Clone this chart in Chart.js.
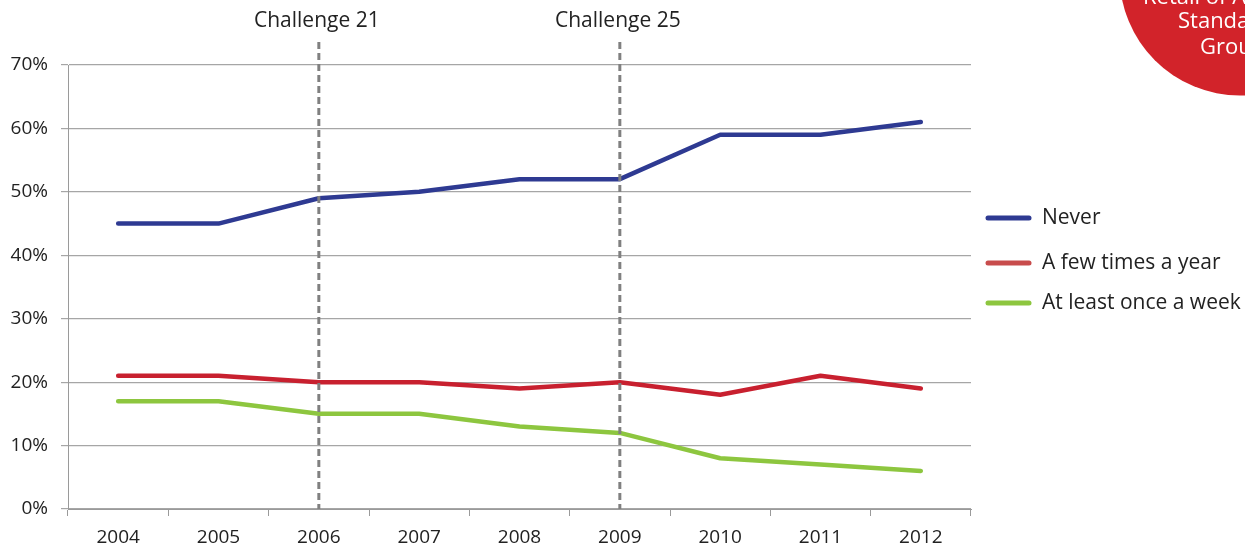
<!DOCTYPE html>
<html>
<head>
<meta charset="utf-8">
<script src="https://cdn.jsdelivr.net/npm/chart.js@4"></script>
<style>
  html, body { margin: 0; padding: 0; background: #fff; }
  #wrap { width: 1245px; height: 544px; position: relative; }
</style>
</head>
<body>
<div id="wrap"><canvas id="line-chart"></canvas></div>
<script>
// data
var years = ["2004", "2005", "2006", "2007", "2008", "2009", "2010", "2011", "2012"];
var never = [45, 45, 49, 50, 52, 52, 59, 59, 61];
var fewTimesYear = [21, 21, 20, 20, 19, 20, 18, 21, 19];
var onceAWeek = [17, 17, 15, 15, 13, 12, 8, 7, 6];
var seriesNames = ["Never", "A few times a year", "At least once a week"];
var markers = [{ year: "2006", text: "Challenge 21" }, { year: "2009", text: "Challenge 25" }];
var badgeLines = ["Retail of Alcohol", "Standards", "Group"];

var FONT = "'Open Sans', sans-serif";

// dashed "Challenge" lines and their captions
var markerPlugin = {
  id: 'markers',
  afterDatasetsDraw: function (chart) {
    var ctx = chart.ctx, x = chart.scales.x, y = chart.scales.y;
    ctx.save();
    markers.forEach(function (m) {
      var px = x.getPixelForValue(years.indexOf(m.year));
      ctx.strokeStyle = '#808080';
      ctx.lineWidth = 3;
      ctx.setLineDash([7, 4]);
      ctx.beginPath();
      ctx.moveTo(px, 42);
      ctx.lineTo(px, y.bottom);
      ctx.stroke();
      ctx.setLineDash([]);
      ctx.fillStyle = '#222';
      ctx.font = '21px ' + FONT;
      ctx.textAlign = 'center';
      ctx.textBaseline = 'middle';
      ctx.fillText(m.text, px - 2, 21);
    });
    ctx.restore();
  }
};

// legend on the right, drawn by hand
var legendPlugin = {
  id: 'sideLegend',
  afterDraw: function (chart) {
    var ctx = chart.ctx;
    var rows = [218, 263, 303];
    var legendColors = ['#2e3a92', '#c84c4c', '#8dc63f'];
    ctx.save();
    chart.data.datasets.forEach(function (ds, i) {
      ctx.strokeStyle = legendColors[i];
      ctx.lineWidth = 5;
      ctx.lineCap = 'round';
      ctx.beginPath();
      ctx.moveTo(988, rows[i]);
      ctx.lineTo(1029, rows[i]);
      ctx.stroke();
      ctx.fillStyle = '#222';
      ctx.font = '21px ' + FONT;
      ctx.textAlign = 'left';
      ctx.textBaseline = 'middle';
      ctx.fillText(ds.label, 1042, rows[i]);
    });
    ctx.restore();
  }
};

// red badge in the top right corner (cut off by the page edge)
var badgePlugin = {
  id: 'badge',
  afterDraw: function (chart) {
    var ctx = chart.ctx;
    ctx.save();
    ctx.fillStyle = '#d2232a';
    ctx.beginPath();
    ctx.arc(1240, -25, 120.5, 0, Math.PI * 2);
    ctx.fill();
    ctx.fillStyle = '#fff';
    ctx.font = '22px ' + FONT;
    ctx.textAlign = 'left';
    ctx.textBaseline = 'middle';
    ctx.fillText(badgeLines[0], 1143, -2);
    ctx.fillText(badgeLines[1], 1178, 22);
    ctx.fillText(badgeLines[2], 1200, 48);
    ctx.restore();
  }
};

new Chart(document.getElementById("line-chart"), {
  type: 'line',
  data: {
    labels: years,
    datasets: [
      { label: seriesNames[0], data: never, borderColor: '#2e3a92' },
      { label: seriesNames[1], data: fewTimesYear, borderColor: '#c8202f' },
      { label: seriesNames[2], data: onceAWeek, borderColor: '#8dc63f' }
    ]
  },
  options: {
    responsive: true,
    maintainAspectRatio: false,
    animation: false,
    layout: { padding: { top: 65, right: 274, left: 0, bottom: 0 } },
    elements: {
      line: { borderWidth: 4.5, tension: 0, borderJoinStyle: 'round', borderCapStyle: 'round' },
      point: { radius: 0, hoverRadius: 0 }
    },
    plugins: { legend: { display: false }, tooltip: { enabled: false } },
    scales: {
      x: {
        offset: true,
        grid: { offset: true, drawOnChartArea: false, color: '#9a9a9a', tickLength: 7 },
        border: { color: '#9a9a9a' },
        ticks: { color: '#222', font: { family: FONT, size: 19 }, padding: 10, maxRotation: 0 },
        afterFit: function (s) { s.height = 35; }
      },
      y: {
        min: 0,
        max: 70,
        grid: { color: '#a6a6a6', tickLength: 7, lineWidth: 1.2 },
        border: { color: '#9a9a9a' },
        ticks: {
          stepSize: 10,
          color: '#222',
          font: { family: FONT, size: 19 },
          padding: 13,
          callback: function (v) { return v + '%'; }
        },
        afterFit: function (s) { s.width = 68; }
      }
    }
  },
  plugins: [markerPlugin, legendPlugin, badgePlugin]
});
</script>
</body>
</html>
